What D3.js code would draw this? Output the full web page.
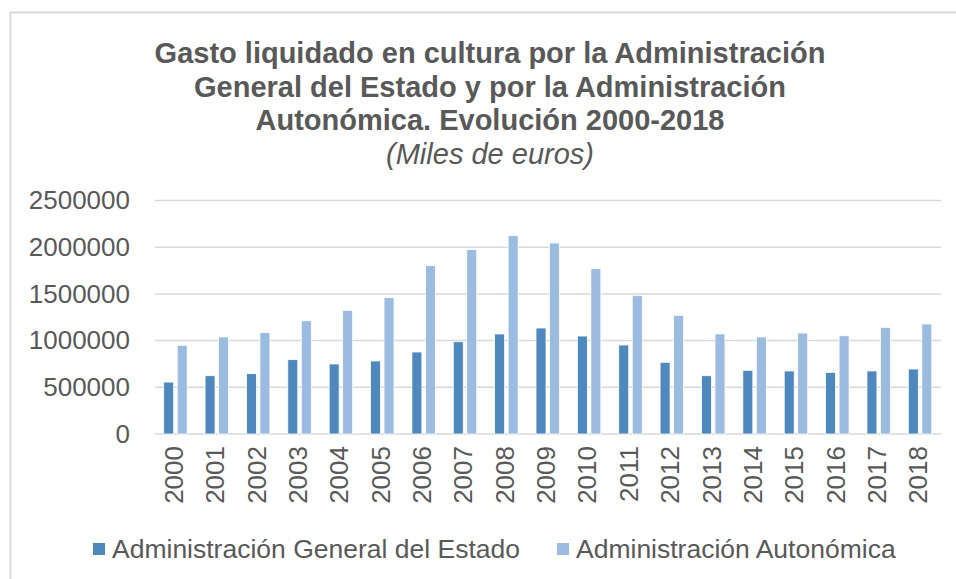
<!DOCTYPE html>
<html><head><meta charset="utf-8">
<script src="https://cdn.jsdelivr.net/npm/d3@7"></script>
<style>body{margin:0;background:#fff;font-family:"Liberation Sans",Arial,sans-serif;}</style>
</head><body>
<svg id="c" width="956" height="579"></svg>
<script>
const years = ["2000","2001","2002","2003","2004","2005","2006","2007","2008","2009","2010","2011","2012","2013","2014","2015","2016","2017","2018"];
const estado = [556000,624000,646000,796000,750000,782000,878000,988000,1071000,1135000,1049000,953000,768000,624000,682000,675000,660000,675000,696000];
const autonomica = [950000,1039000,1085000,1213000,1324000,1460000,1802000,1974000,2123000,2045000,1770000,1481000,1271000,1071000,1039000,1081000,1052000,1142000,1178000];
const yTicks = [0,500000,1000000,1500000,2000000,2500000];
const seriesNames = ["Administración General del Estado","Administración Autonómica"];
const colors = ["#4f88bc","#9bbbe0"];
const titleLines = ["Gasto liquidado en cultura por la Administración","General del Estado y por la Administración","Autonómica. Evolución 2000-2018"];
const subtitle = "(Miles de euros)";

const svg = d3.select("#c");
const txt = "#595959";
const ff = "'Liberation Sans',Arial,sans-serif";
// frame
svg.append("path").attr("d","M10.5,579 L10.5,12.5 L956,12.5").attr("fill","none").attr("stroke","#d9d9d9").attr("stroke-width",2);

const x = d3.scaleBand().domain(years).range([155,941]);
const y = d3.scaleLinear().domain([0,2500000]).range([434,200.5]);

// gridlines
svg.append("g").selectAll("line").data(yTicks).join("line")
  .attr("x1",155).attr("x2",941).attr("y1",d=>y(d)).attr("y2",d=>y(d))
  .attr("stroke","#d9d9d9").attr("stroke-width",1.5);

// y axis labels
const yAxis = d3.axisLeft(y).tickValues(yTicks).tickFormat(d=>String(d)).tickSize(0).tickPadding(25);
const yg = svg.append("g").attr("transform","translate(155,0)").call(yAxis);
yg.select(".domain").remove();
yg.selectAll("text").attr("fill",txt).style("font-size","26px").style("font-family",ff);

// x axis labels
const xAxis = d3.axisBottom(x).tickSize(0).tickPadding(0);
const xg = svg.append("g").attr("transform","translate(0,434)").call(xAxis);
xg.select(".domain").remove();
xg.selectAll("text").attr("fill",txt).style("font-size","26px").style("font-family",ff)
  .attr("transform","rotate(-90)").attr("text-anchor","end").attr("dy","0.35em").attr("x",-12).attr("y",-2);

// bars
const data = [estado, autonomica];
const bw = 11;
data.forEach((vals,si)=>{
  svg.append("g").selectAll("rect").data(vals).join("rect")
    .attr("x",(d,i)=>x(years[i])+x.bandwidth()/2 + (si===0 ? -bw-1 : 1.5))
    .attr("y",d=>y(d))
    .attr("width",bw-1)
    .attr("height",d=>y(0)-y(d))
    .attr("fill",colors[si])
    .attr("stroke","#fff").attr("stroke-width",0.8);
});

// title
const tg = svg.append("g").attr("fill",txt).attr("text-anchor","middle").style("font-family",ff);
titleLines.forEach((t,i)=>{
  tg.append("text").attr("x",490).attr("y",63+i*33.5).text(t)
    .style("font-size","29px").style("font-weight","bold");
});
tg.append("text").attr("x",490).attr("y",164).text(subtitle)
  .style("font-size","29px").style("font-style","italic");

// legend
const lg = svg.append("g").style("font-family",ff);
const legX = [93,557];
seriesNames.forEach((n,i)=>{
  lg.append("rect").attr("x",legX[i]).attr("y",543).attr("width",12).attr("height",12).attr("fill",colors[i]);
  lg.append("text").attr("x",legX[i]+19).attr("y",558).text(n).attr("fill",txt).style("font-size","26.5px");
});
</script>
</body></html>
